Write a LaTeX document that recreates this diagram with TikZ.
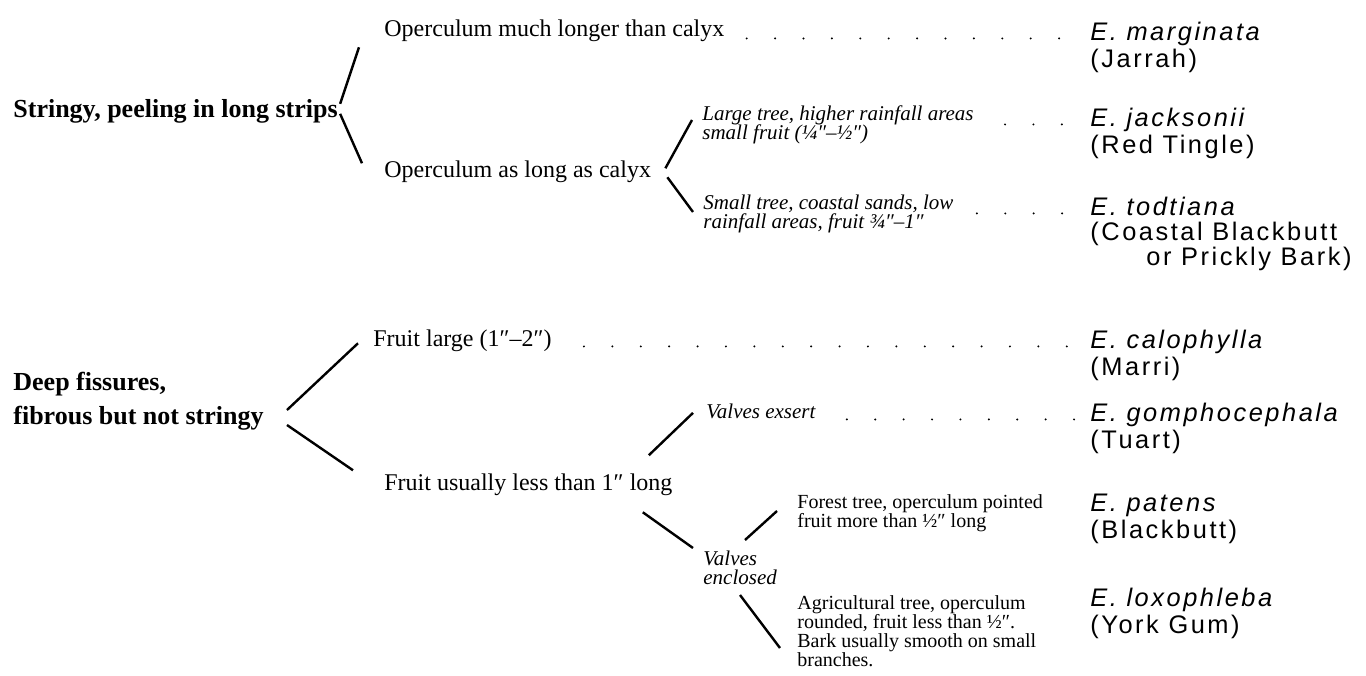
\documentclass[tikz,border=0pt]{standalone}
\usepackage{fontspec}
\setmainfont{Liberation Serif}
\newfontfamily\spfont[LetterSpace=10]{Liberation Sans}
\usetikzlibrary{positioning}
\lineskiplimit=-\maxdimen

\begin{document}
\begin{tikzpicture}[x=0.5pt, y=-0.5pt, every node/.style={inner sep=0pt},
	head/.style={font=\fontsize{13}{17}\selectfont\bfseries, align=left},
	opt/.style={font=\fontsize{12}{14}\selectfont},
	it/.style={font=\fontsize{10.5}{9.5}\selectfont\itshape, align=left},
	sm/.style={font=\fontsize{10}{9.5}\selectfont, align=left},
	sp/.style={font=\fontsize{12.7}{13.5}\selectfont\spfont\itshape, anchor=base west},
	cn/.style={font=\fontsize{12.7}{13.5}\selectfont\spfont, anchor=base west},
	br/.style={line width=1.2pt},
	dl/.style={line width=1.1pt, line cap=round, dash pattern=on 0pt off 14.2pt, transform canvas={yshift=.8pt}}]
	\useasboundingbox (0,0) rectangle (1366,675);

	\node[head, anchor=base west] (strg) at (13,117) {Stringy, peeling in long strips};
	\node[head, anchor=west] (deep) at (13,401) {Deep fissures,\\fibrous but not stringy};

	\node[opt, anchor=base west] (opm) at (384,36) {Operculum much longer than calyx};
	\node[opt, anchor=base west] (opl) at (384,177) {Operculum as long as calyx};
	\node[opt, anchor=base west] (fl) at (373,346) {Fruit large (1″–2″)};
	\node[opt, anchor=base west] (fu) at (384,490) {Fruit usually less than 1″ long};

	\node[it, anchor=west] (large) at (702,125) {Large tree, higher rainfall areas\\small fruit (¼″–½″)};
	\node[it, anchor=west] (small) at (703,214) {Small tree, coastal sands, low\\rainfall areas, fruit ¾″–1″};
	\node[it, anchor=base west] (exsert) at (706,418) {Valves exsert};
	\node[it, anchor=west] (encl) at (703,568) {Valves\\enclosed};
	\node[sm, anchor=west] (forest) at (797,513) {Forest tree, operculum pointed\\fruit more than ½″ long};
	\node[sm, anchor=west] (agri) at (797,631) {Agricultural tree, operculum\\rounded, fruit less than ½″.\\Bark usually smooth on small\\branches.};

	\node[sp] (marg) at (1090,40) {E. marginata};
	\node[cn, below=13.5pt of marg.base west, anchor=base west] (jarrah) {(Jarrah)};
	\node[sp] (jack) at (1090,126) {E. jacksonii};
	\node[cn, below=13.5pt of jack.base west, anchor=base west] (tingle) {(Red Tingle)};
	\node[sp] (todt) at (1090,215) {E. todtiana};
	\node[cn, below=12.5pt of todt.base west, anchor=base west] (coast) {(Coastal Blackbutt};
	\node[cn, below=12.5pt of coast.base west, anchor=base west, xshift=28pt] (prick) {or Prickly Bark)};
	\node[sp] (calo) at (1090,348) {E. calophylla};
	\node[cn, below=13.5pt of calo.base west, anchor=base west] (marri) {(Marri)};
	\node[sp] (gomp) at (1090,421) {E. gomphocephala};
	\node[cn, below=13.5pt of gomp.base west, anchor=base west] (tuart) {(Tuart)};
	\node[sp] (pat) at (1090,511) {E. patens};
	\node[cn, below=13.5pt of pat.base west, anchor=base west] (bbutt) {(Blackbutt)};
	\node[sp] (lox) at (1090,606) {E. loxophleba};
	\node[cn, below=13.5pt of lox.base west, anchor=base west] (york) {(York Gum)};

	\draw[br] ([shift={(2,-7)}]strg.east) -- ([shift={(-25,17)}]opm.west);
	\draw[br] ([shift={(2,3)}]strg.east) -- ([shift={(-22,-8)}]opl.west);
	\draw[br] ([shift={(14,-3)}]opl.east) -- ([shift={(-10,-5)}]large.west);
	\draw[br] ([shift={(16,6)}]opl.east) -- ([shift={(-10,-2)}]small.west);
	\draw[br] ([shift={(23,9)}]deep.east) -- ([shift={(-15,3)}]fl.west);
	\draw[br] ([shift={(23,24)}]deep.east) -- ([shift={(-31,-14)}]fu.west);
	\draw[br] ([shift={(-24,-29)}]fu.east) -- ([shift={(-13,2)}]exsert.west);
	\draw[br] ([shift={(-30,28)}]fu.east) -- ([shift={(-10,-20)}]encl.west);
	\draw[br] ([shift={(42,-28)}]encl.west) -- ([shift={(-20,-2)}]forest.west);
	\draw[br] ([shift={(37,27)}]encl.west) -- ([shift={(-17,17)}]agri.west);

	\draw[dl, shorten <=11pt, shorten >=10pt] (opm.east |- marg.base) -- (marg.base west);
	\draw[dl, shorten <=15.5pt, shorten >=10pt] (large.east |- jack.base) -- (jack.base west);
	\draw[dl, shorten <=11.5pt, shorten >=10pt] (small.east |- todt.base) -- (todt.base west);
	\draw[dl, shorten <=16pt, shorten >=10pt] (fl.east |- calo.base) -- (calo.base west);
	\draw[dl, shorten <=15.5pt, shorten >=7pt] (exsert.east |- gomp.base) -- (gomp.base west);
\end{tikzpicture}
\end{document}
